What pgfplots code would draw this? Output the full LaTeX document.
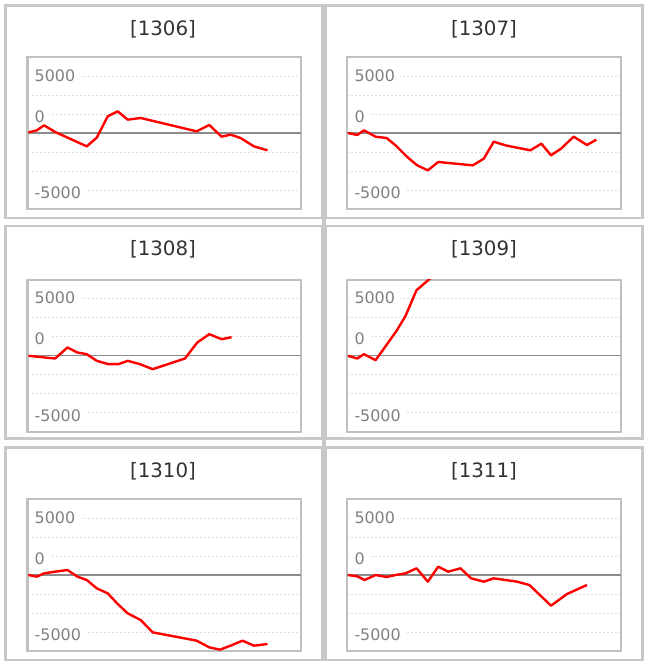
\documentclass[border=0pt]{standalone}
\usepackage{pgfplots}
\pgfplotsset{compat=1.18}
\usepackage{fontspec}
\setmainfont{DejaVu Sans}
\definecolor{panelborder}{HTML}{C8C8C8}
\definecolor{axisborder}{HTML}{C0C0C0}
\definecolor{gridc}{HTML}{DCDCDC}
\definecolor{zeroc}{HTML}{8C8C8C}
\definecolor{labelc}{HTML}{808080}
\definecolor{titlec}{HTML}{333333}
\pgfplotsset{panel/.style={
  at={#1}, anchor=north west, scale only axis, width=273.3bp, height=152bp,
  xmin=0, xmax=821, ymin=-6666.67, ymax=6666.67,
  xtick=\empty, ytick={-5000,-3333.33,-1666.67,1666.67,3333.33,5000},
  yticklabels={{},{},{},{},{},{}}, major tick length=0pt,
  ymajorgrids, grid style={gridc, line width=1bp, dash pattern=on 2bp off 2bp},
  extra y ticks={0}, extra y tick labels={{}},
  extra y tick style={grid style={zeroc, solid, line width=1.9bp}},
  axis line style={axisborder, line width=2bp},
},
redline/.style={red, line width=2.4bp, line join=round, no marks}}
\newcommand\ylabs{%
  \node[anchor=west, xshift=1.5bp, inner xsep=5.5bp, inner ysep=1bp, fill=white, text=labelc, font=\fontsize{15.9bp}{18bp}\selectfont] at (axis cs:0,5030) {5000};
  \node[anchor=west, xshift=1.5bp, inner xsep=5.5bp, inner ysep=1bp, fill=white, text=labelc, font=\fontsize{15.9bp}{18bp}\selectfont] at (axis cs:0,1430) {0};
  \node[anchor=west, xshift=1.5bp, inner xsep=5.5bp, inner ysep=1bp, fill=white, text=labelc, font=\fontsize{15.9bp}{18bp}\selectfont] at (axis cs:0,-5265) {-5000};
}
\begin{document}
\begin{tikzpicture}
\path[fill=white] (0,0) rectangle (648bp,-664bp);
\useasboundingbox (0,0) rectangle (648bp,-664bp);
% panel borders
\begin{scope}[draw=panelborder, line width=2.7bp]
\draw (5.3bp,-5.3bp) rectangle (322bp,-218bp);
\draw (326bp,-5.3bp) rectangle (642.7bp,-218bp);
\draw (5.3bp,-226bp) rectangle (322bp,-438.5bp);
\draw (326bp,-226bp) rectangle (642.7bp,-438.5bp);
\draw (5.3bp,-447.3bp) rectangle (322bp,-660bp);
\draw (326bp,-447.3bp) rectangle (642.7bp,-660bp);
\end{scope}
\fill[panelborder] (322bp,-4bp) rectangle (326bp,-661.4bp);
% titles
\begin{scope}[every node/.style={text=titlec, font=\fontsize{19.8bp}{22bp}\selectfont, inner sep=0pt}]
\node at (163bp,-28.8bp) {[1306]};
\node at (484bp,-28.8bp) {[1307]};
\node at (163bp,-248.8bp) {[1308]};
\node at (484bp,-248.8bp) {[1309]};
\node at (163bp,-470.8bp) {[1310]};
\node at (484bp,-470.8bp) {[1311]};
\end{scope}

\begin{axis}[panel={(27.5bp,-57bp)}]
\ylabs
\addplot[redline] coordinates {(3,58)(28,234)(50,673)(83,88)(178,-1170)(208,-409)(241,1462)(271,1901)(301,1170)(340,1316)(508,146)(546,702)(583,-322)(610,-146)(640,-439)(680,-1170)(721,-1520)};
\end{axis}

\begin{axis}[panel={(347.3bp,-57bp)}]
\ylabs
\addplot[redline] coordinates {(2,0)(30,-175)(50,234)(85,-322)(118,-439)(145,-1082)(180,-2105)(210,-2836)(242,-3275)(273,-2544)(377,-2836)(410,-2251)(440,-760)(475,-1082)(550,-1520)(583,-936)(612,-1959)(642,-1374)(680,-322)(720,-1053)(748,-585)};
\end{axis}

\begin{axis}[panel={(27.5bp,-279.5bp)}]
\ylabs
\addplot[redline] coordinates {(3,-29)(83,-263)(120,702)(150,263)(178,117)(208,-468)(243,-760)(273,-760)(301,-468)(338,-760)(376,-1199)(473,-263)(510,1140)(546,1871)(583,1433)(613,1608)};
\end{axis}

\begin{axis}[panel={(347.3bp,-279.5bp)}]
\ylabs
\addplot[redline] coordinates {(2,-29)(30,-263)(50,117)(85,-409)(148,2164)(175,3480)(208,5731)(270,7281)};
\end{axis}

\begin{axis}[panel={(27.5bp,-499bp)}]
\ylabs
\addplot[redline] coordinates {(3,0)(28,-146)(50,146)(83,292)(120,439)(150,-146)(178,-439)(208,-1170)(241,-1608)(271,-2544)(301,-3363)(340,-3947)(376,-5029)(508,-5760)(546,-6345)(578,-6550)(610,-6199)(646,-5760)(680,-6199)(721,-6053)};
\end{axis}

\begin{axis}[panel={(347.3bp,-499bp)}]
\ylabs
\addplot[redline] coordinates {(2,0)(30,-117)(52,-439)(85,0)(118,-175)(145,0)(175,146)(208,585)(242,-585)(273,731)(303,292)(340,585)(372,-292)(410,-585)(440,-292)(510,-585)(547,-877)(612,-2690)(660,-1667)(720,-877)};
\end{axis}
\end{tikzpicture}
\end{document}
